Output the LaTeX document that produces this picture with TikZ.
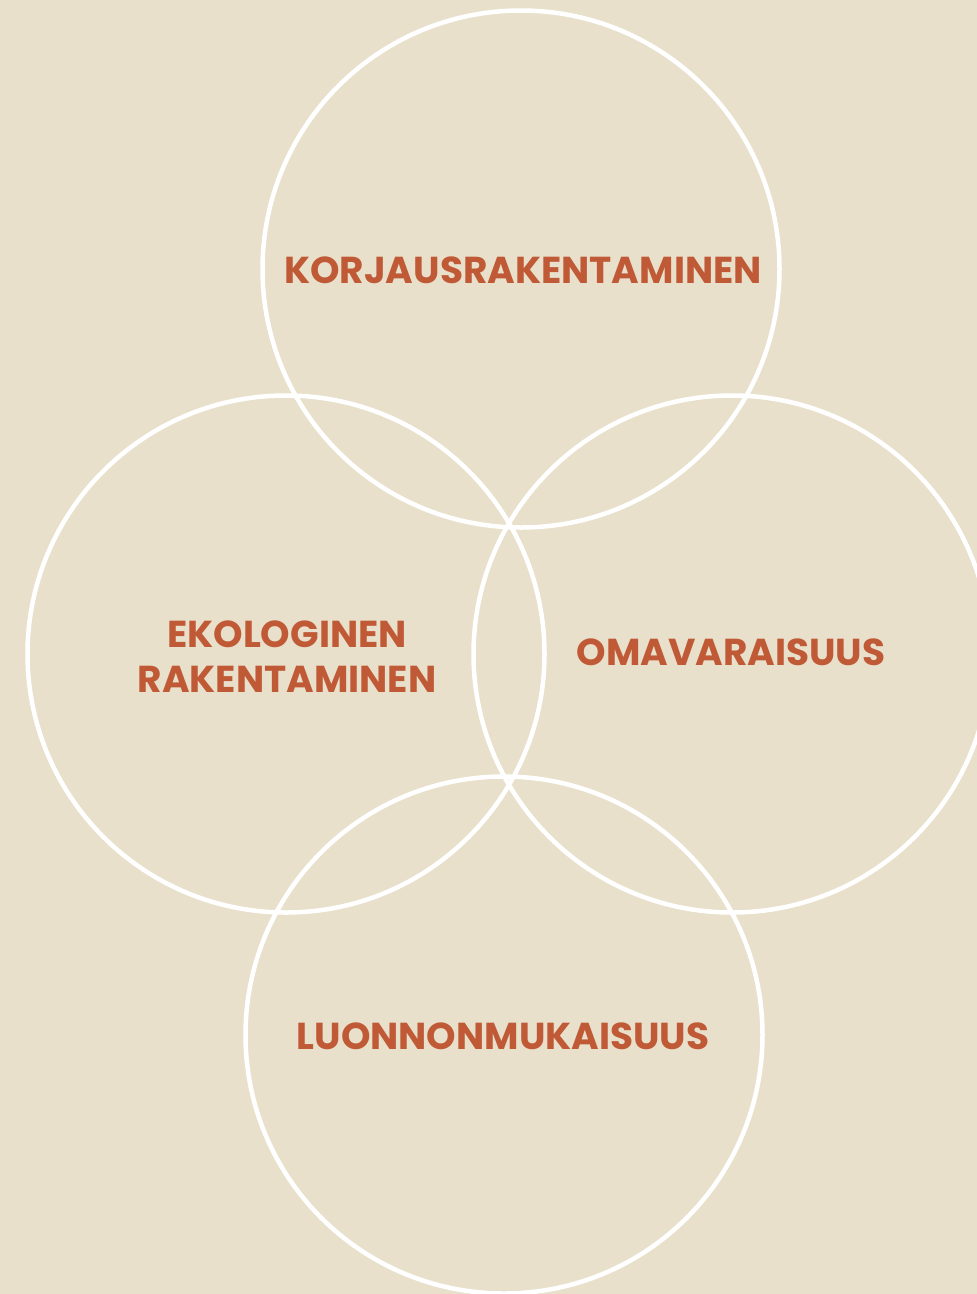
\documentclass[tikz,border=0pt]{standalone}
\usepackage{fontspec}
\setmainfont{Poppins}
\definecolor{paper}{HTML}{E8E0CB}
\definecolor{rust}{HTML}{C05A36}
\begin{document}
\begin{tikzpicture}[x=1pt,y=-1pt,
  ring/.style={circle,draw=white,line width=4.5pt,inner sep=0pt,minimum size=517pt},
  label/.style={text=rust,font=\fontsize{37.5}{45}\selectfont\bfseries,anchor=base,align=center,inner sep=0pt}]
\fill[paper] (0,0) rectangle (977,1294);
\useasboundingbox (0,0) rectangle (977,1294);
\node[ring] (top) at (521,269) {};
\node[ring] (left) at (286,654) {};
\node[ring] (right) at (732,654) {};
\node[ring] (bottom) at (504,1035) {};
\node[label] (t1) at (523,283) {KORJAUSRAKENTAMINEN};
\node[label] (t2) at (287,647) {EKOLOGINEN};
\node[label] (t2b) at (287,692) {RAKENTAMINEN};
\node[label] (t3) at (731,665) {OMAVARAISUUS};
\node[label] (t4) at (503,1049) {LUONNONMUKAISUUS};
\end{tikzpicture}
\end{document}
